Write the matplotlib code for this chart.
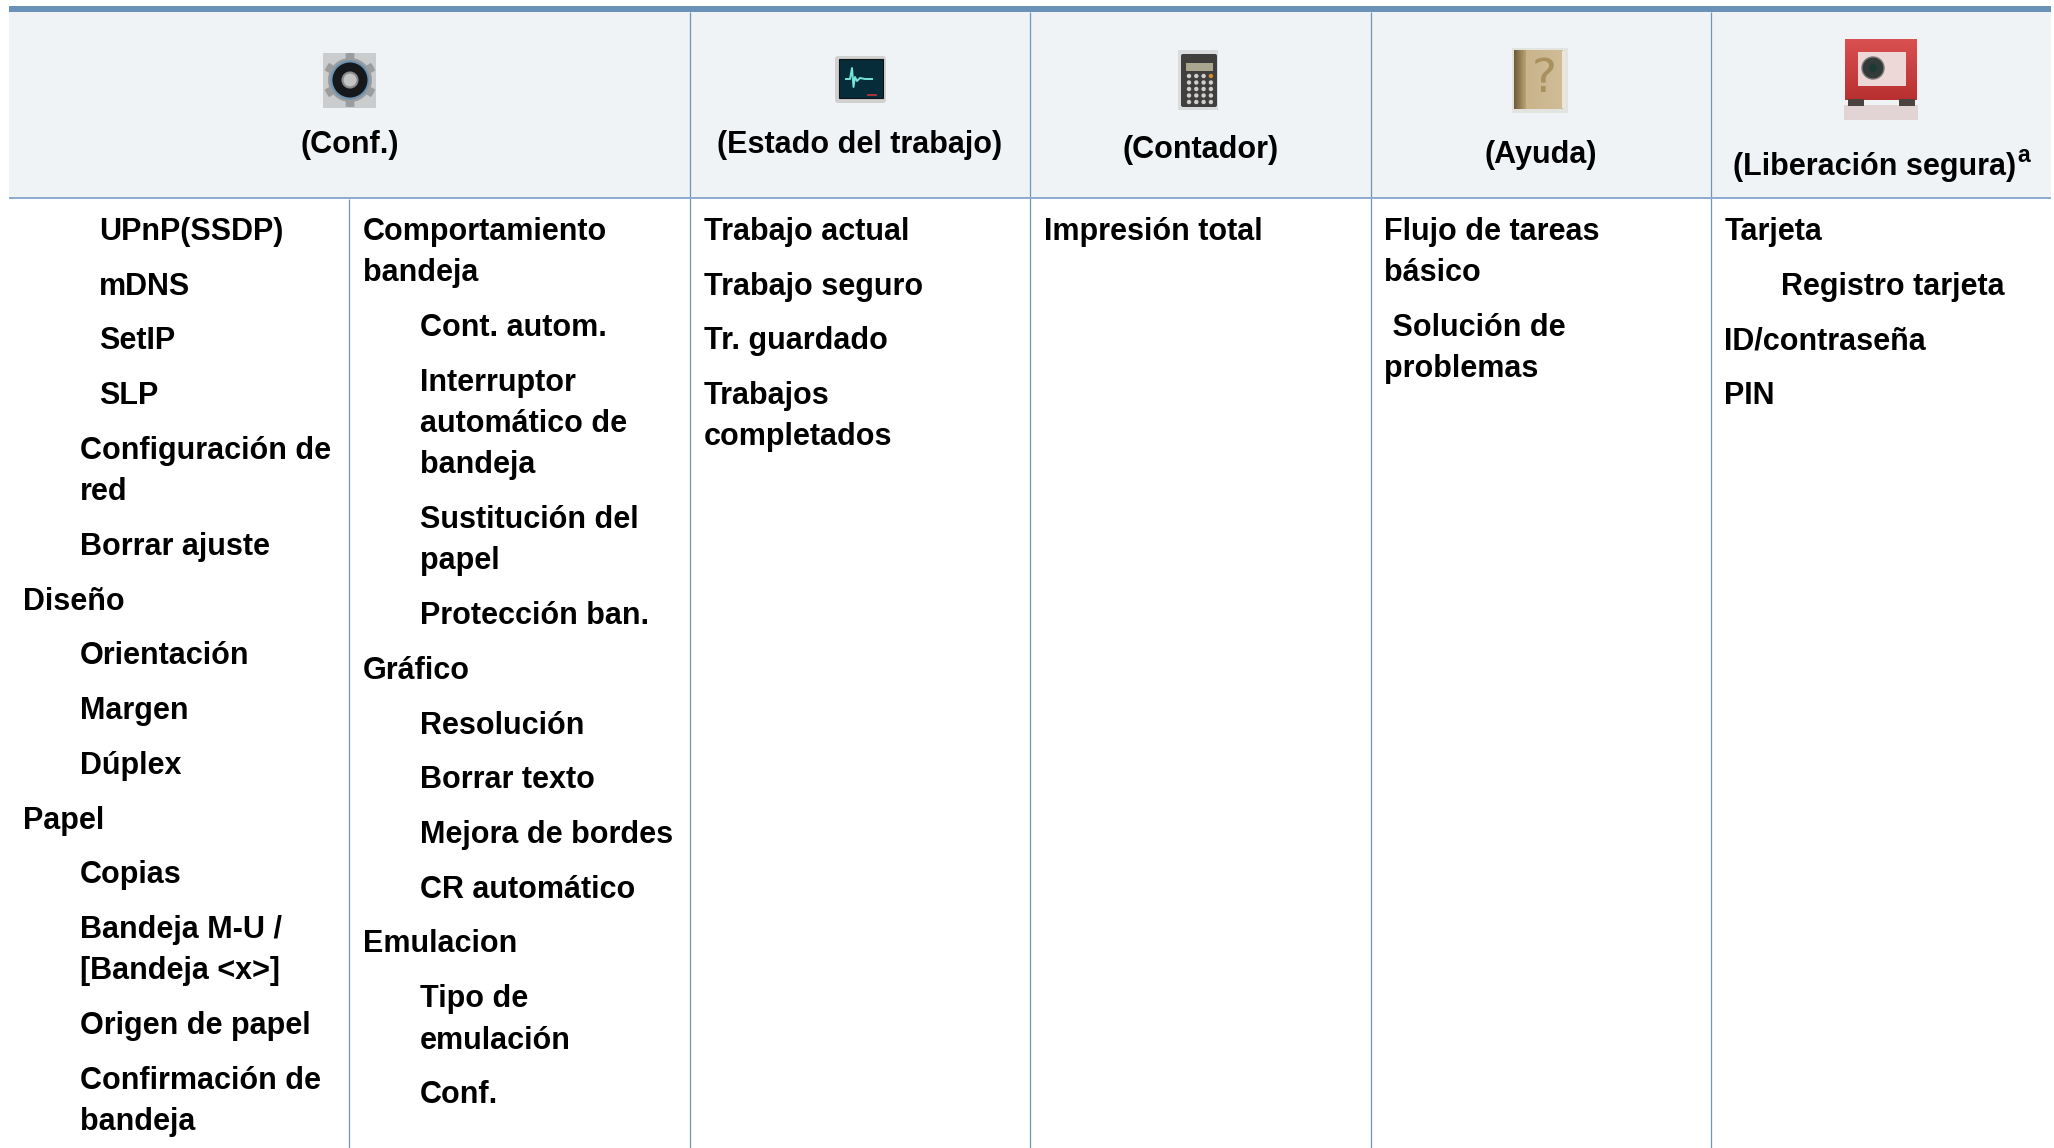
import numpy as np
import matplotlib
matplotlib.use("Agg")
import matplotlib.pyplot as plt
from matplotlib.patches import Rectangle, Circle, FancyBboxPatch, Polygon

plt.rcParams['font.family'] = ['Liberation Sans', 'DejaVu Sans']

# header labels of the menu table
headers = ["(Conf.)", "(Estado del trabajo)", "(Contador)", "(Ayuda)", "(Liberación segura)"]
header_note = "a"

# each entry is one menu item, wrapped lines are split with \n
col1_items = ["UPnP(SSDP)", "mDNS", "SetIP", "SLP", "Configuración de\nred", "Borrar ajuste",
              "Diseño", "Orientación", "Margen", "Dúplex", "Papel", "Copias",
              "Bandeja M-U /\n[Bandeja <x>]", "Origen de papel", "Confirmación de\nbandeja"]
col1_levels = [2, 2, 2, 2, 1, 1, 0, 1, 1, 1, 0, 1, 1, 1, 1]

col2_items = ["Comportamiento\nbandeja", "Cont. autom.", "Interruptor\nautomático de\nbandeja",
              "Sustitución del\npapel", "Protección ban.", "Gráfico", "Resolución", "Borrar texto",
              "Mejora de bordes", "CR automático", "Emulacion", "Tipo de\nemulación", "Conf."]
col2_levels = [0, 1, 1, 1, 1, 0, 1, 1, 1, 1, 0, 1, 1]

col3_items = ["Trabajo actual", "Trabajo seguro", "Tr. guardado", "Trabajos\ncompletados"]
col3_levels = [0, 0, 0, 0]

col4_items = ["Impresión total"]
col4_levels = [0]

col5_items = ["Flujo de tareas\nbásico", " Solución de\nproblemas"]
col5_levels = [0, 0]

col6_items = ["Tarjeta", "Registro tarjeta", "ID/contraseña", "PIN"]
col6_levels = [0, 1, 0, 0]

# layout in pixels of the 2054x1148 page
W, H = 2054, 1148
col_lines = [349, 690, 1030, 1371, 1711]
left, right = 9, 2051
indent = {0: 0, 1: 56.5, 2: 75.5}
FS = 22

fig = plt.figure(figsize=(W / 100, H / 100), dpi=100)
ax = fig.add_axes([0, 0, 1, 1])
ax.set_xlim(0, W)
ax.set_ylim(H, 0)
ax.axis("off")


def gradient(x0, x1, y0, y1, c0, c1, horizontal=True):
    # small helper for the shaded parts of the icons
    c0 = np.array(matplotlib.colors.to_rgb(c0))
    c1 = np.array(matplotlib.colors.to_rgb(c1))
    t = np.linspace(0, 1, 32)[:, None]
    img = (c0 + (c1 - c0) * t)
    img = img[None, :, :] if horizontal else img[:, None, :]
    ax.imshow(img, extent=(x0, x1, y1, y0), aspect="auto", interpolation="bilinear", zorder=1.5)


# header band and rules
ax.add_patch(Rectangle((left, 12), right - left, 185, fc="#eff3f6", ec="none", zorder=0))
ax.add_patch(Rectangle((left, 6), right - left, 6, fc="#6a91b8", ec="none", zorder=2))
ax.add_patch(Rectangle((left, 196.5), right - left, 2.5, fc="#8eaccd", ec="none", zorder=2))
for x in col_lines[1:]:
    ax.plot([x, x], [12, H], color="#6f95bb", lw=0.9, zorder=1, solid_capstyle="butt")
ax.plot([col_lines[0]] * 2, [199, H], color="#6f95bb", lw=0.9, zorder=1, solid_capstyle="butt")

# header text
header_x = [350, 860, 1200.5, 1541, 1874.5]
header_y = [153.3, 153.3, 158.3, 163.3, 175.3]
for t, x, y in zip(headers, header_x, header_y):
    ht = ax.text(x, y, t, fontsize=FS, fontweight="bold", ha="center", va="baseline", color="#000000")
fig.canvas.draw()
bb = ht.get_window_extent()
ax.text(bb.x1 + 1, 162, header_note, fontsize=16.5, fontweight="bold", ha="left", va="baseline", color="#000000")


# body columns
def draw_column(items, levels, x0):
    y = 239.8
    for item, lev in zip(items, levels):
        for line in item.split("\n"):
            ax.text(x0 + indent[lev], y, line, fontsize=FS, fontweight="bold",
                    ha="left", va="baseline", color="#000000")
            y += 41.3
        y += 54.75 - 41.3


draw_column(col1_items, col1_levels, 23.2)
draw_column(col2_items, col2_levels, 363)
draw_column(col3_items, col3_levels, 703.5)
draw_column(col4_items, col4_levels, 1044)
draw_column(col5_items, col5_levels, 1384.5)
draw_column(col6_items, col6_levels, 1724.5)

z = 3
# gear icon
ax.add_patch(Rectangle((323, 53), 53, 55, fc="#cbcccd", ec="none", zorder=z))
ang = np.linspace(0, 2 * np.pi, 193)
rad = 22 + 5 * (np.cos(6 * ang) > 0.45)
ax.add_patch(Polygon(np.c_[350 + rad * np.sin(ang), 80 - rad * np.cos(ang)], fc="#9a9c9e", ec="none", zorder=z))
ax.add_patch(Circle((350, 80), 19.5, fc="#6a93b3", ec="none", zorder=z))
ax.add_patch(Circle((350, 80), 17.5, fc="#17181b", ec="none", zorder=z))
ax.add_patch(Circle((350, 80), 7.5, fc="#c4c4c4", ec="#8c8c8c", lw=1.5, zorder=z))

# monitor icon
ax.add_patch(FancyBboxPatch((835, 56), 51, 47, boxstyle="round,pad=0,rounding_size=3", fc="#d0d0d0", ec="none", zorder=z))
ax.add_patch(Rectangle((838.5, 59), 44.5, 39, fc="#062c3a", ec="#111111", lw=0.8, zorder=z))
ax.plot([846, 850, 852, 853.5, 855, 857, 860, 865, 872], [79, 79, 68, 87, 77, 81, 78, 79, 79],
        color="#74e3d8", lw=1.4, zorder=z)
ax.add_patch(Rectangle((867, 94), 10, 2, fc="#a0333a", ec="none", zorder=z))

# calculator icon
ax.add_patch(Rectangle((1178, 50), 40, 60, fc="#dadbdc", ec="none", zorder=z))
ax.add_patch(FancyBboxPatch((1181, 54), 36, 53, boxstyle="round,pad=0,rounding_size=2", fc="#403f3e", ec="none", zorder=z))
ax.add_patch(Rectangle((1186, 63), 27, 8, fc="#a9a88e", ec="none", zorder=z))
for i in np.arange(4):
    for j in np.arange(5):
        c = "#d98a2b" if (i == 3 and j == 0) else "#cfcfcf"
        ax.add_patch(Circle((1189 + i * 7.3, 76 + j * 6.5), 2.2, fc=c, ec="none", zorder=z))

# book icon
ax.add_patch(Rectangle((1512, 48), 56, 65, fc="#e3e3df", ec="none", zorder=1))
gradient(1514, 1526, 50, 109, "#6f5a36", "#b9a273")
gradient(1526, 1563, 50, 109, "#c9b48b", "#d0bc97")
ax.add_patch(Rectangle((1562, 51), 3, 57, fc="#ece6d8", ec="none", zorder=z))
ax.text(1544, 79, "?", fontsize=34, ha="center", va="center", color="#a8905f",
        family="DejaVu Sans", zorder=z)

# safe icon
ax.add_patch(Rectangle((1844, 105), 74, 15, fc="#e2d4d4", ec="none", zorder=z))
ax.add_patch(Rectangle((1848, 99), 16, 7, fc="#4c4341", ec="none", zorder=z))
ax.add_patch(Rectangle((1899, 99), 16, 7, fc="#4c4341", ec="none", zorder=z))
gradient(1845, 1917, 39, 100, "#d95050", "#b93030", horizontal=False)
ax.add_patch(Rectangle((1858, 52), 48, 34, fc="#eed7d7", ec="none", zorder=z))
ax.add_patch(Circle((1873, 68), 11, fc="#333b3a", ec="#777777", lw=1, zorder=z))
ax.add_patch(Circle((1873, 68), 4, fc="#1c3a34", ec="none", zorder=z))

ax.set_xlim(0, W)
ax.set_ylim(H, 0)
fig.savefig("out.png", dpi=100)
